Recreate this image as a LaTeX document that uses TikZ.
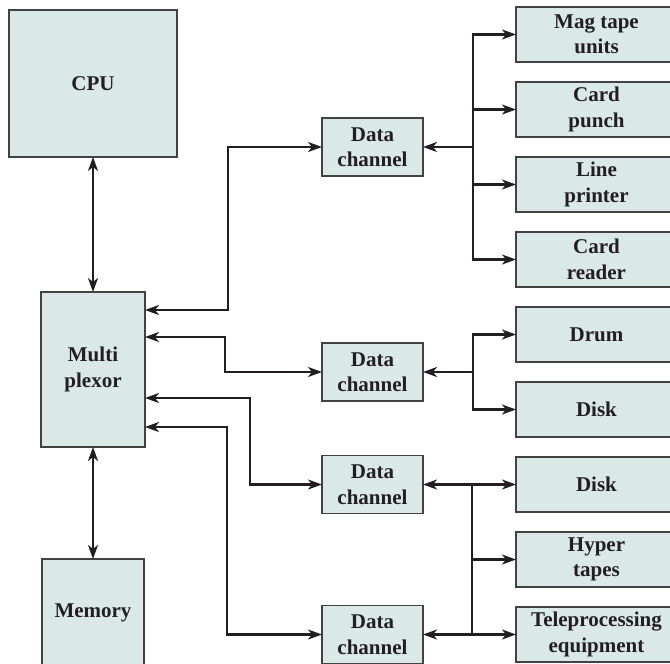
\documentclass[tikz,border=0pt]{standalone}
\usepackage{fontspec}
\setmainfont{Liberation Serif}
\usetikzlibrary{positioning, arrows.meta, calc}
\definecolor{boxfill}{RGB}{218,232,232}
\definecolor{ink}{RGB}{35,31,32}

\begin{document}
\begin{tikzpicture}[
  x=1pt, y=-1pt,
  font=\bfseries\fontsize{21}{25.5}\selectfont,
  text=ink,
  node distance=20pt,
  >={Stealth[length=14pt, width=10pt, inset=4pt]},
  box/.style={draw=ink!85, line width=1.1pt, fill=boxfill, align=center, inner sep=2pt, outer sep=0pt},
  chan/.style={box, minimum width=101pt, minimum height=58pt},
  dev/.style={box, minimum width=161pt, minimum height=55pt},
  flow/.style={->, line width=2.2pt, draw=ink},
  dflow/.style={flow, <->}
]
\useasboundingbox (0,0) rectangle (670,664);
\node[box, minimum width=168pt, minimum height=147pt] (cpu) at (93,83.5) {CPU};
\node[box, minimum width=104pt, minimum height=155pt] (mux) at (93,369.5) {Multi\\plexor};
\node[box, minimum width=102pt, minimum height=108pt, anchor=north] (mem) at (93,559) {Memory};
\node[dev] (mag) at (596.5,34.5) {Mag tape\\units};
\node[dev, below=of mag] (punch) {Card\\punch};
\node[dev, below=of punch] (lprint) {Line\\printer};
\node[dev, below=of lprint] (creader) {Card\\reader};
\node[dev, below=of creader] (drum) {Drum};
\node[dev, below=of drum] (disk1) {Disk};
\node[dev, below=of disk1] (disk2) {Disk};
\node[dev, below=of disk2] (hyper) {Hyper\\tapes};
\node[dev, below=of hyper] (tele) {Teleprocessing\\equipment};
\node[chan] (dc1) at ($(372.5,0 |- punch)!0.5!(372.5,0 |- lprint)$) {Data\\channel};
\node[chan] (dc2) at ($(dc1 |- drum)!0.5!(dc1 |- disk1)$) {Data\\channel};
\node[chan] (dc3) at (dc1 |- disk2) {Data\\channel};
\node[chan] (dc4) at (dc1 |- tele) {Data\\channel};
\draw[dflow] (cpu) -- (mux);
\draw[dflow] (mux) -- (mem);
\foreach \i/\dy/\dx in {1/18/83, 2/45/80, 3/106/105, 4/135/82}
  \draw[dflow] ($(mux.north east)+(0,\dy)$) -- ++(\dx,0) |- (dc\i.west);
\coordinate (bus1) at ($(dc1.east)+(50,0)$);
\draw[flow] (bus1) -- (dc1.east);
\foreach \d in {mag, punch, lprint, creader}
  \draw[flow] (bus1) |- (\d.west);
\coordinate (bus2) at ($(dc2.east)+(50,0)$);
\draw[flow] (bus2) -- (dc2.east);
\foreach \d in {drum, disk1}
  \draw[flow] (bus2) |- (\d.west);
\coordinate (bus3) at ($(dc3.east)+(49,0)$);
\draw[flow] (bus3) -- (dc3.east);
\foreach \d in {disk2, hyper, tele}
  \draw[flow] (bus3) |- (\d.west);
\draw[flow] (bus3 |- tele.west) -- (dc4.east);
\end{tikzpicture}
\end{document}
